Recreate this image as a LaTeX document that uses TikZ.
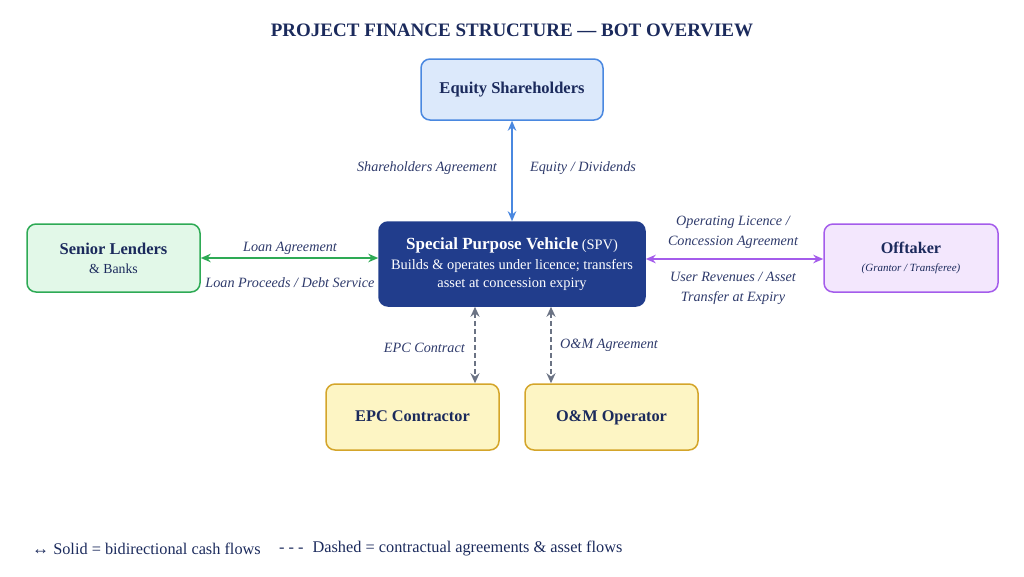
\documentclass[tikz,border=0pt]{standalone}
\usepackage{fontspec}
\setmainfont{Liberation Serif}
\usetikzlibrary{arrows.meta}
\definecolor{navy}{HTML}{1B2A5C}
\definecolor{lbl}{HTML}{2E3A6B}
\definecolor{eqfill}{HTML}{DCE9FB}
\definecolor{eqdraw}{HTML}{4A88E0}
\definecolor{spvfill}{HTML}{213D8C}
\definecolor{gfill}{HTML}{E2F8E8}
\definecolor{gdraw}{HTML}{2EAA55}
\definecolor{pfill}{HTML}{F3E7FD}
\definecolor{pdraw}{HTML}{A45CEB}
\definecolor{yfill}{HTML}{FDF5C4}
\definecolor{ydraw}{HTML}{D4A52A}
\definecolor{gray1}{HTML}{6B7384}
\tikzset{
  box/.style={rounded corners=9pt, line width=1.5pt, inner sep=0pt, text=navy, align=center},
  ybox/.style={box, fill=yfill, draw=ydraw, minimum width=173pt, minimum height=66pt, text height=11.5pt, text depth=3.5pt, font=\bfseries\fontsize{16.3}{19}\selectfont},
  lab/.style={text=lbl, font=\itshape\fontsize{14.2}{20}\selectfont, inner sep=0pt, align=center},
  flow/.style={line width=1.8pt, {Stealth[length=10pt,width=8.5pt]}-{Stealth[length=10pt,width=8.5pt]}},
  contract/.style={line width=2.2pt, gray1, dash pattern=on 5pt off 3pt, {Stealth[length=10pt,width=9pt]}-{Stealth[length=10pt,width=9pt]}},
}
\begin{document}
\begin{tikzpicture}[x=1pt,y=-1pt]
\useasboundingbox (0,0) rectangle (1024,576);
\node[text=navy, font=\bfseries\fontsize{19}{22}\selectfont] (title) at (512,30) {PROJECT FINANCE STRUCTURE — BOT OVERVIEW};

\node[box, fill=eqfill, draw=eqdraw, minimum width=182pt, minimum height=61pt, font=\bfseries\fontsize{16.5}{19}\selectfont] (eq) at (512,89.5) {Equity Shareholders};

\node[box, fill=spvfill, draw=spvfill, text=white, minimum width=266pt, minimum height=84pt, font=\fontsize{14.4}{17.5}\selectfont] (spv) at (512,264) {{\bfseries\fontsize{17}{20}\selectfont Special Purpose Vehicle} (SPV)\\[2.5pt]
Builds \& operates under licence; transfers\\
asset at concession expiry};

\node[box, fill=gfill, draw=gdraw, minimum width=173pt, minimum height=68pt, font=\fontsize{13.8}{19}\selectfont] (sl) at (113.5,258) {{\bfseries\fontsize{16.5}{19}\selectfont Senior Lenders}\\\& Banks};

\node[box, fill=pfill, draw=pdraw, minimum width=174pt, minimum height=68pt, font=\fontsize{11}{18.5}\selectfont] (off) at (911,258) {{\bfseries\fontsize{16.2}{19}\selectfont Offtaker}\\{\itshape (Grantor / Transferee)}};

\node[ybox] (epc) at (412.5,417) {EPC Contractor};
\node[ybox] (om) at (611.5,417) {O\&M Operator};

% connectors
\draw[flow, eqdraw] (eq.south) -- (spv.north);
\draw[flow, gdraw] (sl.east) -- (spv.west |- sl.east);
\path (spv.east |- off.east) ++(0,1) coordinate (pa);
\path (off.west) ++(0,1) coordinate (pb);
\draw[flow, pdraw] (pa) -- (pb);
\coordinate (d1t) at (475,306);
\coordinate (d2t) at (551,306);
\draw[contract] (spv.south -| d1t) -- (epc.north -| d1t);
\draw[contract] (spv.south -| d2t) -- (om.north -| d2t);

% labels
\node[lab, anchor=east] (l1) at (497,168) {Shareholders Agreement};
\node[lab, anchor=west] (l2) at (530,168) {Equity / Dividends};
\node[lab] (l3) at (290,248) {Loan Agreement};
\node[lab] (l4) at (290,283) {Loan Proceeds / Debt Service};
\node[lab] (l5) at (733,232) {Operating Licence /\\Concession Agreement};
\node[lab] (l6) at (733,288) {User Revenues / Asset\\Transfer at Expiry};
\node[lab, anchor=east] (l7) at (465,348) {EPC Contract};
\node[lab, anchor=west] (l8) at (560,345) {O\&M Agreement};

% legend
\node[anchor=west, text=navy, font=\fontsize{16.3}{19}\selectfont, inner sep=0pt] (leg1) at (32,549) {{\fontsize{17}{19}\selectfont ↔} Solid = bidirectional cash flows};
\node[anchor=west, text=navy, font=\fontsize{16.3}{19}\selectfont, inner sep=0pt] (leg2) at (279,549) {-\ -\ -\hspace{9pt}Dashed = contractual agreements \& asset flows};
\end{tikzpicture}
\end{document}
